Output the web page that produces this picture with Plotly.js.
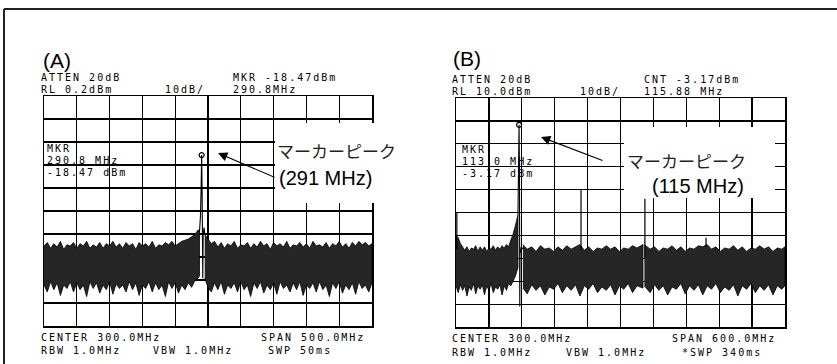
<!DOCTYPE html>
<html><head><meta charset="utf-8">
<script src="https://cdn.plot.ly/plotly-3.0.1.min.js"></script>
<style>
html,body{margin:0;padding:0;background:#fff;}
#chart{width:837px;height:364px;}
text.annotation-text[style*="Mono"]{letter-spacing:2px;}
</style></head><body><div id="chart"></div>
<script>
// ---------- Panel A (center 300 MHz, span 500 MHz, RL 0.2 dBm, 10 dB/div) ----------
const A_left_f = [50,55,60,65,70,75,80,85,90,95,100,105,110,115,120,125,130,135,140,145,150,155,160,165,170,175,180,185,190,195,200,205,210,215,220,225,230,235,240,245,250,255,260,265,270,275,280,285,287];
const A_left_top = [-65,-63.5,-66,-64,-65.5,-63,-66.5,-64.5,-65,-63.5,-66,-64,-65,-63,-66,-64.5,-65.5,-63.5,-66,-64,-65,-63,-65.5,-64,-66,-63.5,-65,-64,-66.5,-63.5,-65,-64,-65.5,-63,-66,-64.5,-65,-63.5,-64.5,-63,-65,-64,-63,-62.5,-62,-61,-60,-58,-59];
const A_left_bot = [-82,-85,-80.5,-84,-81,-86.5,-82,-83.5,-80.5,-85,-81,-84,-82,-87,-80.5,-83.5,-81,-85.5,-82,-84,-80.5,-86,-81.5,-83.5,-82,-85,-80.5,-84,-81,-86.5,-82,-83.5,-80.5,-85,-81,-84,-82,-87,-80.5,-83.5,-81,-85.5,-82,-84,-81,-83,-80,-79,-78];
const A_right_f = [295,300,305,310,315,320,325,330,335,340,345,350,355,360,365,370,375,380,385,390,395,400,405,410,415,420,425,430,435,440,445,450,455,460,465,470,475,480,485,490,495,500,505,510,515,520,525,530,535,540,545,550];
const A_right_top = [-60,-62,-64,-63,-65.5,-63.5,-66,-64,-65,-63,-66,-64.5,-65,-63.5,-66,-64,-65.5,-63,-65,-64,-66.5,-63.5,-65,-64,-65.5,-63,-66,-64.5,-65,-63.5,-65.5,-64,-66,-63,-65,-64.5,-65.5,-63.5,-66,-64,-65,-63,-65.5,-64,-66,-63.5,-65,-63,-64.5,-63.5,-65,-64];
const A_right_bot = [-79,-83,-85,-81,-84,-80.5,-86,-82,-83.5,-81,-85,-80.5,-84,-82,-87,-81,-83.5,-80.5,-85.5,-82,-84,-81,-86,-80.5,-83.5,-82,-85,-81,-84,-80.5,-86.5,-82,-83.5,-81,-85,-80.5,-84,-82,-87,-81,-83.5,-80.5,-85.5,-82,-84,-81,-86,-80.5,-83.5,-82,-85,-81];
const A_peak_f  = [287,288.5,289.5,290.3,291,291.7,292,292.6,294,295];
const A_peak_db = [-59,-52,-40,-25.5,-40,-55,-79,-60,-57,-60];
const A_mkr_f = [290.3], A_mkr_db = [-25.5];

// ---------- Panel B (center 300 MHz, span 600 MHz, RL 10.0 dBm, 10 dB/div) ----------
const B_left_f = [0,4,8,12,16,20,24,28,32,36,40,44,48,52,56,60,64,68,72,76,80,84,88,92,96,100,104,108,111,113];
const B_left_top = [-50,-51,-53.5,-55,-56.5,-55,-57,-55.5,-56,-54.5,-57,-55,-56.5,-55,-57,-55.5,-56,-54.5,-56.5,-55,-56,-54.5,-55.5,-54,-55,-52,-49.5,-46,-43.5,-41];
const B_left_bot = [-72,-75,-71.5,-74,-72,-76.5,-72.5,-74,-71,-75.5,-72,-73.5,-71.5,-76,-72,-74,-71,-75,-72.5,-73.5,-71.5,-76,-72,-74,-71,-72,-70,-68,-66,-64];
const B_mid_f = [122,130,138,146,154,162,170,178,186,194,202,210,218,226,234,242,250,258,266,274,282,290,298,306,314,322,330,341];
const B_mid_top = [-54,-56,-55,-57,-54.5,-56,-55.5,-57,-55,-56.5,-54.5,-56,-55,-54,-56.5,-55,-57,-55.5,-56,-54.5,-56,-55,-57,-55.5,-56,-54.5,-55.5,-54];
const B_mid_bot = [-73,-75.5,-71.5,-74,-72,-76,-72.5,-73.5,-71,-75,-72,-74,-71.5,-76.5,-72,-73.5,-71,-75,-72.5,-74,-71.5,-76,-72,-73.5,-71,-75,-72,-73];
const B_right_f = [343.5,354,362,370,378,386,394,402,410,418,426,434,442,450,458,466,474,482,490,498,506,514,522,530,538,546,554,562,570,578,586,594,600];
const B_right_top = [-54,-56,-55,-57,-55.5,-56,-54.5,-56.5,-55,-57,-55.5,-56,-54.5,-55,-54,-56,-55,-57,-55.5,-56,-54.5,-56.5,-55,-57,-55.5,-56,-54.5,-56,-55,-57,-55.5,-56,-55];
const B_right_bot = [-72,-75,-71.5,-74,-72,-76,-72.5,-73.5,-71,-75.5,-72,-74,-71.5,-76,-72,-73.5,-71,-75,-72.5,-74,-71.5,-76.5,-72,-73.5,-71,-75,-72,-74,-71.5,-76,-72,-73.5,-72];
const B_peak_f  = [113,114.2,115,115.8,116.3,116.3,116.8,119,122];
const B_peak_db = [-41,-20,-1.7,-25,-50,-81,-58,-55,-56];
const B_mkr_f = [115], B_mkr_db = [-1.7];
const B_spur_f    = [1.5,228,344.5,456];
const B_spur_top  = [-40,-30,-34,-51];
const B_spur_base = [-56,-56,-60,-55];

// ---------- texts ----------
const A_header = ["ATTEN 20dB","RL 0.2dBm","10dB/","MKR -18.47dBm","290.8MHz"];
const A_mkrbox = ["MKR","290.8 MHz","-18.47 dBm"];
const A_footer = ["CENTER 300.0MHz","SPAN 500.0MHz","RBW 1.0MHz","VBW 1.0MHz","SWP 50ms"];
const B_header = ["ATTEN 20dB","RL 10.0dBm","10dB/","CNT -3.17dBm","115.88 MHz"];
const B_mkrbox = ["MKR","113.0 MHz","-3.17 dBm"];
const B_footer = ["CENTER 300.0MHz","SPAN 600.0MHz","RBW 1.0MHz","VBW 1.0MHz","*SWP 340ms"];
const panelLabels = ["(A)","(B)"];
const noteJP = "マーカーピーク";
const noteFreq = ["(291 MHz)","(115 MHz)"];

const W = 837, H = 364;
const px = x => x / W, py = y => 1 - y / H;

function band(f, top, bot, xa, ya) {
  return {x: f.concat(f.slice().reverse()), y: top.concat(bot.slice().reverse()),
    type:'scatter', mode:'lines', fill:'toself', fillcolor:'#262626',
    line:{color:'#000', width:0.8}, xaxis:xa, yaxis:ya, hoverinfo:'skip', showlegend:false};
}
function line(f, d, xa, ya, w) {
  return {x:f, y:d, type:'scatter', mode:'lines', line:{color:'#000', width:w||1},
    xaxis:xa, yaxis:ya, hoverinfo:'skip', showlegend:false};
}
function spurs(f, top, base, xa, ya) {
  const xs = [], ys = [];
  f.forEach((v,i) => { xs.push(v, v, null); ys.push(top[i], base[i], null); });
  return line(xs, ys, xa, ya, 1.2);
}
function mkr(f, d, xa, ya) {
  return {x:f, y:d, type:'scatter', mode:'markers', marker:{symbol:'circle-open', size:5, color:'#000', line:{width:1.2}},
    xaxis:xa, yaxis:ya, hoverinfo:'skip', showlegend:false};
}

const data = [
  band(A_left_f, A_left_top, A_left_bot, 'x', 'y'),
  band(A_right_f, A_right_top, A_right_bot, 'x', 'y'),
  line(A_peak_f, A_peak_db, 'x', 'y', 1.1),
  mkr(A_mkr_f, A_mkr_db, 'x', 'y'),
  band(B_left_f, B_left_top, B_left_bot, 'x2', 'y2'),
  band(B_mid_f, B_mid_top, B_mid_bot, 'x2', 'y2'),
  band(B_right_f, B_right_top, B_right_bot, 'x2', 'y2'),
  line(B_peak_f, B_peak_db, 'x2', 'y2', 1.1),
  spurs(B_spur_f, B_spur_top, B_spur_base, 'x2', 'y2'),
  mkr(B_mkr_f, B_mkr_db, 'x2', 'y2')
];

function ax(extra) {
  return Object.assign({showgrid:true, gridcolor:'#000', gridwidth:1.2, showline:true, mirror:true,
    linecolor:'#000', linewidth:1.5, zeroline:false, showticklabels:false, ticks:'', fixedrange:true}, extra);
}

const MONO = 'DejaVu Sans Mono';
function txt(s, x, y, size, family, color) {
  return {text:s, xref:'paper', yref:'paper', x:px(x), y:py(y), xanchor:'left', yanchor:'middle',
    showarrow:false, borderpad:0, font:{family:family||MONO, size:size||10, color:color||'#000'}};
}
function arrow(hx, hy, tx, ty) {
  return {text:'', xref:'paper', yref:'paper', x:px(hx), y:py(hy), ax:tx-hx, ay:ty-hy,
    showarrow:true, arrowhead:2, arrowsize:1.7, arrowwidth:1.1, arrowcolor:'#000'};
}

const annotations = [
  txt(panelLabels[0], 42, 61, 21, 'Liberation Sans, Arial'),
  txt(A_header[0], 40, 77.5), txt(A_header[1], 40, 89.5), txt(A_header[2], 164, 89.5),
  txt(A_header[3], 232, 77.5), txt(A_header[4], 232, 89.5),
  txt(A_mkrbox[0], 46, 148, 10), txt(A_mkrbox[1], 46, 160, 10), txt(A_mkrbox[2], 46, 172, 10),
  txt(A_footer[0], 40, 337), txt(A_footer[1], 260, 337),
  txt(A_footer[2], 40, 350), txt(A_footer[3], 152, 350), txt(A_footer[4], 267, 350),
  txt(noteJP, 276, 150, 17, 'Noto Sans CJK JP', '#222'),
  txt(noteFreq[0], 278, 178, 20, 'Liberation Sans, Arial'),
  arrow(218, 153, 276, 178),

  txt(panelLabels[1], 452, 59, 21, 'Liberation Sans, Arial'),
  txt(B_header[0], 451, 79), txt(B_header[1], 451, 91), txt(B_header[2], 579, 91),
  txt(B_header[3], 643, 79), txt(B_header[4], 643, 91),
  txt(B_mkrbox[0], 461, 149, 10), txt(B_mkrbox[1], 461, 161, 10), txt(B_mkrbox[2], 461, 173, 10),
  txt(B_footer[0], 451, 338), txt(B_footer[1], 671, 338),
  txt(B_footer[2], 451, 352), txt(B_footer[3], 565, 352), txt(B_footer[4], 681, 352),
  txt(noteJP, 626, 160, 17, 'Noto Sans CJK JP', '#222'),
  txt(noteFreq[1], 651, 186, 20, 'Liberation Sans, Arial'),
  arrow(541, 137, 604, 161)
];

const shapes = [
  // white boxes behind the callout texts (hide the graticule there)
  {type:'rect', xref:'paper', yref:'paper', x0:px(275), x1:px(412), y0:py(203), y1:py(123),
   fillcolor:'#fff', line:{width:0}, layer:'above'},
  {type:'rect', xref:'paper', yref:'paper', x0:px(624), x1:px(775), y0:py(198), y1:py(127),
   fillcolor:'#fff', line:{width:0}, layer:'above'},
  // outer frame
  {type:'line', xref:'paper', yref:'paper', x0:px(4), x1:px(4), y0:py(9), y1:py(366), line:{color:'#222', width:2}},
  {type:'line', xref:'paper', yref:'paper', x0:px(4), x1:px(837), y0:py(9), y1:py(9), line:{color:'#222', width:2}}
];

const layout = {
  width:W, height:H, margin:{l:0, r:0, t:0, b:0}, paper_bgcolor:'#fff', plot_bgcolor:'#fff',
  showlegend:false,
  xaxis: ax({domain:[px(44), px(372)], range:[50,550], tick0:50, dtick:50, anchor:'y'}),
  yaxis: ax({domain:[py(326), py(96)], range:[-99.8,0.2], tick0:0.2, dtick:10, anchor:'x'}),
  xaxis2: ax({domain:[px(456), px(785)], range:[0,600], tick0:0, dtick:60, anchor:'y2'}),
  yaxis2: ax({domain:[py(327), py(98)], range:[-90,10], tick0:10, dtick:10, anchor:'x2'}),
  annotations: annotations,
  shapes: shapes
};

Plotly.newPlot('chart', data, layout, {staticPlot:true, displayModeBar:false});
</script></body></html>
